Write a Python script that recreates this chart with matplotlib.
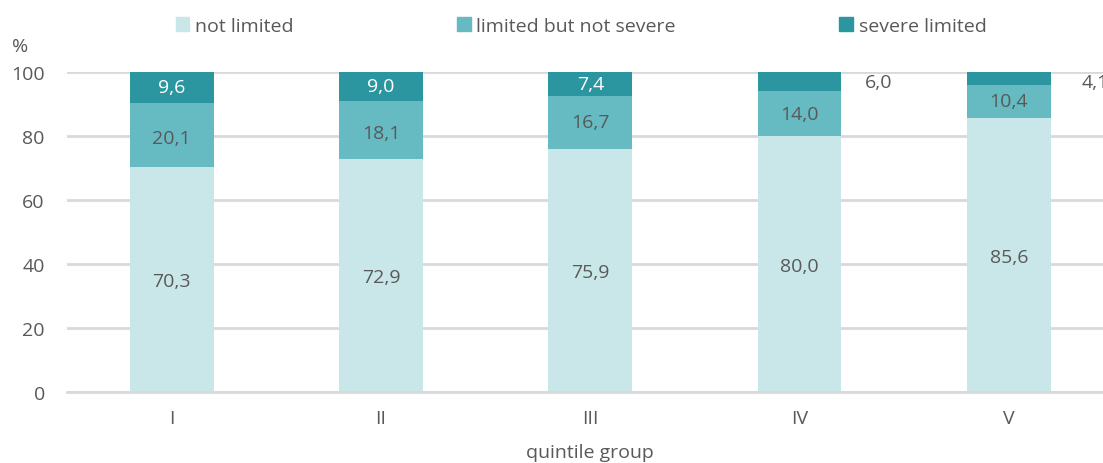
import numpy as np
import matplotlib.pyplot as plt
from matplotlib.patches import Patch

groups = ['I', 'II', 'III', 'IV', 'V']
not_limited = [70.3, 72.9, 75.9, 80.0, 85.6]
limited_not_severe = [20.1, 18.1, 16.7, 14.0, 10.4]
severe_limited = [9.6, 9.0, 7.4, 6.0, 4.1]
series_names = ['not limited', 'limited but not severe', 'severe limited']

colors = ['#c9e7e9', '#66bac2', '#2b96a0']
grey = '#595959'

plt.rcParams['font.family'] = ['Open Sans', 'DejaVu Sans']
fs = 14

fig = plt.figure(figsize=(11.03, 4.64), dpi=100)
ax = fig.add_axes([67 / 1103, 1 - 393 / 464, (1113.5 - 67) / 1103, 320 / 464])

x = np.arange(len(groups))
w = 0.4
fmt = lambda v: ('%.1f' % v).replace('.', ',')

bottom = np.zeros(len(groups))
for k, vals in enumerate([not_limited, limited_not_severe, severe_limited]):
    vals = np.array(vals)
    ax.bar(x, vals, w, bottom=bottom, color=colors[k], zorder=3)
    for i, v in enumerate(vals):
        cy = bottom[i] + v / 2
        if k == 2 and v < 7:
            # small segments: label outside to the right
            ax.text(x[i] + w / 2 + 0.11 + (0.04 if i == 4 else 0), 97,
                    fmt(v), ha='left', va='center', color=grey, fontsize=fs)
        else:
            ax.text(x[i], cy - (0.6 if k == 0 else 0) - (1.0 if k == 1 and i < 2 else 0),
                    fmt(v), ha='center', va='center',
                    color='white' if k == 2 else grey, fontsize=fs)
    bottom += vals

ax.set_xlim(-0.5, 4.5)
ax.set_ylim(0, 100)
ax.set_yticks([0, 20, 40, 60, 80, 100])
ax.set_xticks(x)
ax.set_xticklabels(groups)
ax.yaxis.grid(True, color='#d9d9d9', linewidth=2)
ax.set_axisbelow(True)
for s in ['top', 'right', 'left']:
    ax.spines[s].set_visible(False)
ax.spines['bottom'].set_color('#d9d9d9')
ax.spines['bottom'].set_linewidth(2)
ax.spines['bottom'].set_zorder(4)
ax.tick_params(axis='both', length=0, colors=grey, labelsize=fs)
ax.tick_params(axis='y', pad=16)
ax.tick_params(axis='x', pad=12)

fig.text(12 / 1103, 1 - 47 / 464, '%', color=grey, fontsize=fs, va='center', ha='left')
fig.text(590 / 1103, 1 - 453 / 464, 'quintile group', color=grey, fontsize=fs,
         va='center', ha='center')

handles = [Patch(color=colors[k], label=series_names[k]) for k in range(3)]
leg = fig.legend(handles=handles, loc='center', bbox_to_anchor=(581 / 1103, 1 - 27 / 464),
                 ncol=3, frameon=False, handlelength=0.7, handleheight=0.7,
                 handletextpad=0.3, columnspacing=8.4, fontsize=fs)
for t in leg.get_texts():
    t.set_color(grey)

fig.savefig('out.png', dpi=100)
